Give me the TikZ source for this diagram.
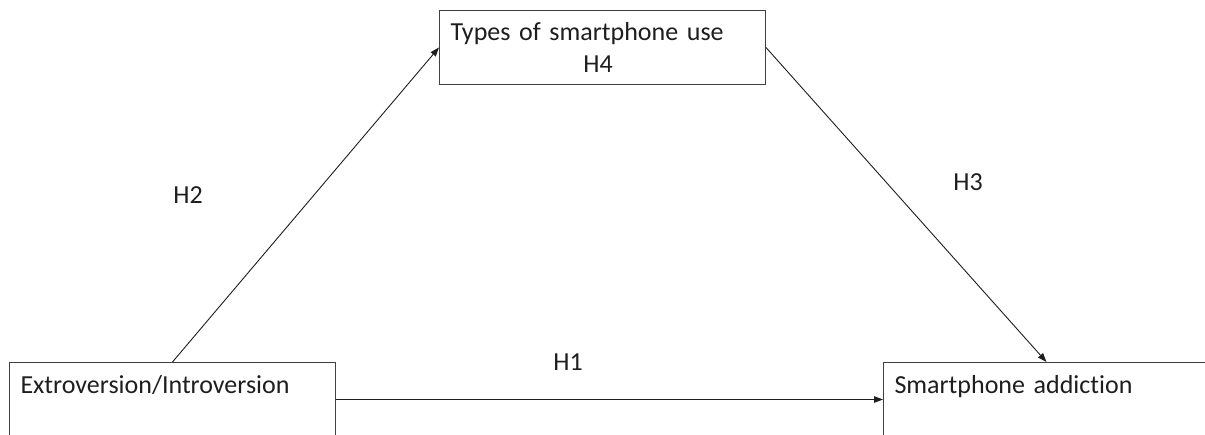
\documentclass[tikz,border=0pt]{standalone}
\usepackage{fontspec}
\setmainfont[Ligatures=NoCommon]{Carlito}
\usetikzlibrary{arrows.meta}
\definecolor{boxborder}{RGB}{64, 64, 64}
\definecolor{inkcolor}{RGB}{30, 30, 30}
\tikzstyle{box} = [rectangle, draw=boxborder, line width=1pt, anchor=north west,
                   text width=304pt, align=left, inner xsep=11pt, inner ysep=0pt,
                   text=inkcolor, font=\fontsize{26}{30}\selectfont]
\tikzstyle{hyp} = [text=inkcolor, font=\fontsize{26}{30}\selectfont]
\tikzstyle{arrow} = [-{Triangle[length=9pt, width=6.5pt]}, line width=0.9pt, draw=inkcolor]

\begin{document}
\begin{tikzpicture}[x=1pt, y=-1pt]
    \path[use as bounding box, clip] (0,0) rectangle (1205,434);
    % Constructs
    \node[box, text height=30pt, text depth=44pt] (use) at (439,10) {Types of smartphone use};
    \node[box, text height=31pt, text depth=43pt] (extro) at (9,362) {Extroversion/Introversion};
    \node[box, text height=31pt, text depth=43pt] (addict) at (883,362) {Smartphone addiction};

    % Hypotheses
    \node[hyp] (h1) at (568,362) {H1};
    \node[hyp] (h2) at (188,195) {H2};
    \node[hyp] (h3) at (968,182) {H3};
    \node[hyp] (h4) at (598,64) {H4};

    % Paths
    \draw[arrow] (extro) -- (addict);
    \draw[arrow] (extro.north) -- (use.west);
    \draw[arrow] (use.east) -- (addict.north);
\end{tikzpicture}
\end{document}
